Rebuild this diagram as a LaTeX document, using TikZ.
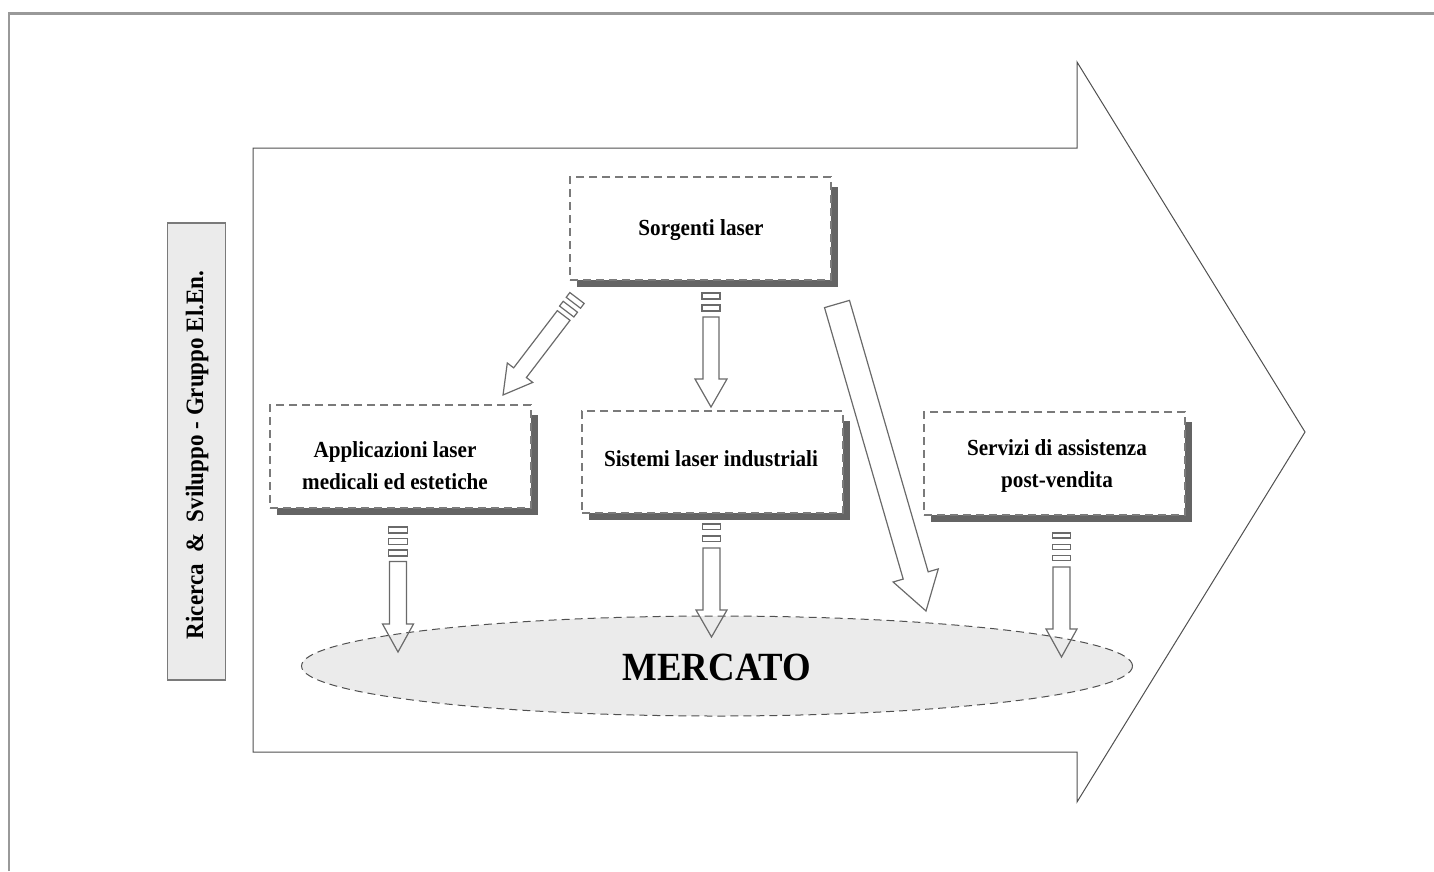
\documentclass[tikz,border=0pt]{standalone}
\usepackage{fontspec}
\setmainfont{Liberation Serif}[FakeStretch=0.92]
\usetikzlibrary{calc,shapes.geometric}
\definecolor{framec}{HTML}{999999}
\definecolor{outl}{HTML}{505050}
\definecolor{dashc}{HTML}{7A7A7A}
\definecolor{shad}{HTML}{646464}
\definecolor{lgray}{HTML}{EBEBEB}
\definecolor{arrc}{HTML}{6A6A6A}
\tikzset{
  boxframe/.style={draw=dashc, line width=2.2pt, dash pattern=on 8pt off 5pt, fill=white, inner sep=0pt},
  lbl/.style={font=\fontsize{23}{32}\selectfont\bfseries, align=center, inner sep=0pt},
  arrowshape/.style={draw=arrc, line width=1.2pt, line join=miter},
}
% name, x1, y1, x2, y2
\newcommand\shadbox[5]{%
  \fill[shad] (#2+7,#3+10) rectangle (#4+7,#5+7);
  \node[boxframe, minimum width=#4pt-#2pt, minimum height=#5pt-#3pt] (#1) at ({(#2+#4)/2},{(#3+#5)/2}) {};
}
% start, end, stripe hw, shaft hw, head hw, head len, n stripes, stripe h, stripe gap
\newcommand\barrow[9]{%
  \draw[arrowshape] let \p1=($(#2)-(#1)$), \n1={atan2(\y1,\x1)}, \n2={veclen(\x1,\y1)} in
    [shift={(#1)}, rotate=\n1]
    ({#7*(#8+#9)},#4) -- ({\n2-#6},#4) -- ({\n2-#6},#5) -- (\n2,0) -- ({\n2-#6},-#5) -- ({\n2-#6},-#4) -- ({#7*(#8+#9)},-#4) -- cycle;
  \ifnum#7>0
  \foreach \k in {1,...,#7}{%
    \draw[arrowshape] let \p1=($(#2)-(#1)$), \n1={atan2(\y1,\x1)} in
      [shift={(#1)}, rotate=\n1] ({(\k-1)*(#8+#9)},#3) rectangle ({(\k-1)*(#8+#9)+#8},-#3);
  }\fi
}
\begin{document}
\begin{tikzpicture}[x=1pt,y=-1pt]
\useasboundingbox (0,0) rectangle (1434,871);
% page frame
\draw[framec, line width=2.5pt] (9,871) -- (9,13.5) -- (1434,13.5);
% big process arrow
\draw[outl, line width=1pt] (253,148) -- (1077,148) -- (1077,62) -- (1305,432) -- (1077,802) -- (1077,752) -- (253,752) -- cycle;
% left label
\node[draw=dashc, line width=1.5pt, fill=lgray, minimum width=58pt, minimum height=457pt] (rd) at (196.5,451.5) {};
\node[rotate=90, font=\fontsize{25}{28}\selectfont\bfseries, inner sep=0pt] (rdT) at (197,455) {Ricerca \ \& \ Sviluppo - Gruppo El.En.};
% market
\node[ellipse, draw=outl, line width=1pt, dash pattern=on 8pt off 5pt, fill=lgray, minimum width=831pt, minimum height=100pt, inner sep=0pt] (merc) at (717,666) {};
\node[font=\fontsize{40}{44}\selectfont\bfseries, inner sep=0pt, anchor=base] (mercT) at (717,680) {MERCATO};
% boxes
\shadbox{sorg}{570}{177}{831}{280}
\shadbox{appl}{270}{405}{531}{508}
\shadbox{sist}{582}{411}{843}{513}
\shadbox{serv}{924}{412}{1185}{515}
\node[lbl, anchor=base] (sorgT) at (701,235) {Sorgenti laser};
\node[lbl] (applT) at (395,466) {Applicazioni laser\\medicali ed estetiche};
\node[lbl, anchor=base] (sistT) at (711,466) {Sistemi laser industriali};
\node[lbl] (servT) at (1057,466) {Servizi di assistenza\\post-vendita};
% arrow end points
\coordinate (aS) at (711,293);   \coordinate (aE) at (711,407);
\coordinate (bS) at (577,298);   \coordinate (bE) at (503,395);
\coordinate (cS) at (398,527);   \coordinate (cE) at (398,652);
\coordinate (dS) at (711.5,524); \coordinate (dE) at (711.5,637);
\coordinate (eS) at (1061.5,533);\coordinate (eE) at (1061.5,657);
\coordinate (fS) at (837,304);   \coordinate (fE) at (926,611);
\barrow{aS}{aE}{9}{8}{16}{28}{2}{6}{6}
\barrow{bS}{bE}{9}{8}{16}{28}{2}{6}{5}
\barrow{cS}{cE}{9.5}{8.5}{15.5}{28}{3}{6}{5.5}
\barrow{dS}{dE}{9}{8.5}{15.5}{27}{2}{5.5}{6.5}
\barrow{eS}{eE}{9}{8.5}{15.5}{28}{3}{5}{6.3}
\barrow{fS}{fE}{0}{13}{23.5}{37}{0}{0}{0}
\end{tikzpicture}
\end{document}
